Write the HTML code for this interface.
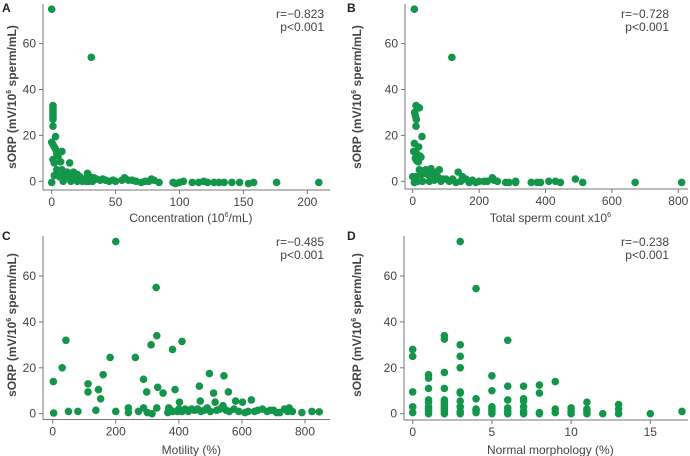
<!DOCTYPE html>
<html><head><meta charset="utf-8">
<style>
html,body{margin:0;padding:0;background:#fff;}
svg{display:block;font-family:"Liberation Sans",Arial,sans-serif;}
</style></head>
<body>
<svg id="chart" width="690" height="456" viewBox="0 0 690 456"></svg>
<script>
const panelLabels=["A","B","C","D"];
const xTitles=["Concentration (10|6|/mL)","Total sperm count x10|6|","Motility (%)","Normal morphology (%)"];
const rLabels=["r=\u22120.823","r=\u22120.728","r=\u22120.485","r=\u22120.238"];
const xTicksA=[0,50,100,150,200];
const xTicksB=[0,200,400,600,800];
const xTicksC=[0,200,400,600,800];
const xTicksD=[0,5,10,15];
const yTicks=[0,20,40,60];
const dataA=[[0,75],[31,54],[1,33],[1,32],[1,31],[1,30],[1,29],[1,28],[1,27],[1,24],[3,19.5],[0,17],[1,16],[2,15],[3,14],[4,12],[8,13],[5,11],[1,9.5],[2,8],[7,8.5],[14,8],[4,5],[8,5],[10,4],[12,4],[15,3],[17,4],[20,3],[6,2],[2,2.5],[10,2],[13,2],[18,1.5],[22,2],[25,1],[28,3.5],[30,2],[33,1.5],[35,1],[38,0.5],[40,1],[42,0.5],[45,0],[48,0.5],[0,-0.5],[9,0],[15,0],[20,0],[24,0],[27,0],[29,0],[32,0],[50,0],[55,0.5],[57,1.5],[60,0.5],[63,0.5],[66,0],[70,-0.5],[73,0],[76,0],[78,1],[80,0.5],[84,-0.5],[95,-0.5],[97,-1],[100,-0.5],[103,0],[110,-0.5],[115,-0.5],[119,0],[122,-0.5],[127,-0.5],[131,-0.5],[135,-0.5],[141,-0.5],[147,-0.5],[154,-1],[158,-0.5],[176,-0.5],[209,-0.5]];
const dataB=[[5,75],[118,54],[10,33],[14,32],[20,32],[6,30],[8,28.5],[11,27],[10,24],[28,19.5],[5,16.5],[18,15],[3,13],[12,12],[22,11],[25,10.5],[8,10],[12,9],[17,8.5],[20,5],[30,4.5],[40,5],[55,5.5],[70,4],[80,5],[137,4],[0,2],[10,2],[25,3],[35,3.5],[45,3],[60,3],[75,2],[90,1],[100,1],[120,1],[150,2],[160,1],[180,0.5],[200,0],[215,0],[225,0],[240,1.5],[245,0.5],[255,0],[280,-0.5],[290,-0.5],[310,-0.5],[310,0],[357,-0.5],[375,-0.5],[385,-0.5],[410,0],[430,0],[445,-0.5],[490,1],[512,-0.5],[670,-0.5],[810,-0.5],[5,-0.5],[15,0],[30,0],[50,0],[65,0.5],[85,0],[110,0],[130,-0.5],[145,0],[170,-0.5],[190,-0.5]];
const dataC=[[200,75],[328,55],[42,32],[330,34],[410,31.5],[312,30],[380,28],[182,24.5],[262,24.5],[30,20],[160,17],[497,17.5],[543,16.5],[2,14],[288,15],[112,13],[465,12],[333,11.5],[388,10.5],[112,9.5],[145,10.5],[298,9.5],[350,9],[510,9],[557,9.5],[152,6.5],[402,5],[468,5.5],[580,5.5],[602,5],[630,6],[137,1.5],[240,2.5],[288,2.5],[330,2.5],[368,2.5],[420,2],[440,2],[490,2.5],[515,5],[540,3.5],[3,0.3],[50,1],[80,1],[200,1],[240,0.5],[272,1],[300,0.5],[315,0],[365,0.5],[380,1],[400,2],[430,1],[450,1.5],[470,1],[500,1],[520,1.5],[560,1],[590,1],[610,0.5],[640,1],[665,2],[680,1],[700,1.5],[720,0.5],[735,2],[750,2.5],[760,1],[790,0.5],[822,1],[845,0.8],[375,1.5],[395,1],[410,1],[460,2],[480,1.5],[530,2],[550,1.5],[575,2],[620,1],[650,1.5],[690,1.5],[710,0.5],[745,1]];
const dataD=[[3,75],[4,54.5],[6,32],[2,34],[2,32.5],[3,30],[0,28],[0,25],[3,25],[3,20],[2,18],[1,17],[1,15.5],[5,16.5],[9,14],[8,12.5],[7,12],[6,12],[1,11],[2,11],[5,10],[0,9.5],[3,9.5],[3,9],[8,9],[4,6.5],[6,6],[7,6.5],[7,5.5],[11,5],[13,4],[1,6],[1,5],[2,6],[2,5],[2,4],[3,5.5],[0,3],[1,3],[2,3],[3,3],[5,3],[5,2],[6,2.5],[7,3],[9,2],[10,2.5],[11,2],[13,2],[0,0.5],[1,1],[1,0],[2,1],[2,0],[3,1],[3,0],[4,1.5],[4,0.5],[5,1],[5,0],[6,1],[6,0],[7,1],[7,0],[8,0.5],[8,0],[9,0.5],[10,1],[10,0],[11,1],[11,0],[12,0],[13,0],[15,0],[17,1],[4,2],[2,2],[1,2]];

const NS="http://www.w3.org/2000/svg";
const svg=document.getElementById('chart');
function mk(tag,attrs,parent){const e=document.createElementNS(NS,tag);for(const k in attrs)e.setAttribute(k,attrs[k]);(parent||svg).appendChild(e);return e;}

const panels=[
 {ox:0,oy:0,axX:43,xPix0:51.7,xVal1:200,xPix1:307.3,axEnd:330,y0o:181.3,axB:190,top:4,tt:222,ticks:xTicksA,data:dataA},
 {ox:345,oy:0,axX:405,xPix0:412.7,xVal1:800,xPix1:678.3,axEnd:688,y0o:181.3,axB:189,top:4,tt:222,ticks:xTicksB,data:dataB},
 {ox:0,oy:228,axX:43,xPix0:52.7,xVal1:800,xPix1:305,axEnd:330,y0o:185.7,axB:191.5,top:8,tt:226,ticks:xTicksC,data:dataC},
 {ox:345,oy:228,axX:404,xPix0:412.7,xVal1:15,xPix1:650.3,axEnd:688,y0o:185.7,axB:192,top:8,tt:226,ticks:xTicksD,data:dataD}
];
const names=["a","b","c","d"];
panels.forEach((p,i)=>{
  const g=mk('g',{});
  
  
  const y0=p.oy+p.y0o, yPer=45.9/20;
  const axisBottom=p.oy+p.axB;
  const xs=v=>p.xPix0+(v/p.xVal1)*(p.xPix1-p.xPix0);
  const ys=v=>y0-v*yPer;
  const ya=mk('line',{x1:p.axX,y1:p.oy+p.top,x2:p.axX,y2:axisBottom,stroke:'#777','stroke-width':1},g);
  
  
  const xa=mk('line',{x1:p.axX,y1:axisBottom,x2:p.axEnd,y2:axisBottom,stroke:'#777','stroke-width':1},g);
  
  
  yTicks.forEach(t=>{
    const y=ys(t);
    mk('line',{x1:p.axX-4,y1:y,x2:p.axX,y2:y,stroke:'#777'},g);
    const tx=mk('text',{x:p.axX-7,y:y+4,'text-anchor':'end','font-size':12,fill:'#444'},g);
    tx.textContent=t;
    
    
  });
  p.ticks.forEach(t=>{
    const x=xs(t);
    mk('line',{x1:x,y1:axisBottom,x2:x,y2:axisBottom+4,stroke:'#777'},g);
    const tx=mk('text',{x:x,y:axisBottom+16,'text-anchor':'middle','font-size':12,fill:'#444'},g);
    tx.textContent=t;
    
    
  });
  const parts=xTitles[i].split('|');
  const xt=mk('text',{x:(p.xPix0+p.axEnd)/2,y:p.oy+p.tt,'text-anchor':'middle','font-size':12,fill:'#444'},g);
  
  
  parts.forEach((s,k)=>{const ts=mk('tspan',{},xt);ts.textContent=s;if(k===1){ts.setAttribute('font-size',7);ts.setAttribute('dy',-5);}if(k===2){ts.setAttribute('dy',5);}});
  const cy=p.oy+97, cx=p.ox+16;
  const yt=mk('text',{x:cx,y:cy,'text-anchor':'middle','font-size':12,'font-weight':'bold',fill:'#444',transform:`rotate(-90 ${cx} ${cy})`},g);
  
  
  const a=mk('tspan',{},yt);a.textContent='sORP (mV/10';
  const b=mk('tspan',{'font-size':7,dy:-5},yt);b.textContent='6';
  const c=mk('tspan',{dy:5},yt);c.textContent=' sperm/mL)';
  const pl=mk('text',{x:p.ox+2,y:p.oy+12,'font-size':12,'font-weight':'bold',fill:'#222'},g);
  pl.textContent=panelLabels[i];
  
  
  const s1=mk('text',{x:p.ox+324,y:p.oy+18,'text-anchor':'end','font-size':12,fill:'#444'},g);
  s1.textContent=rLabels[i];
  
  
  const s2=mk('text',{x:p.ox+324,y:p.oy+31,'text-anchor':'end','font-size':12,fill:'#444'},g);
  s2.textContent='p<0.001';
  
  
  p.data.forEach(d=>{
    const c=mk('circle',{cx:xs(d[0]),cy:ys(d[1]),r:3.8,fill:'#13964a'},g);
    
    
  });
});
</script>
</body></html>
